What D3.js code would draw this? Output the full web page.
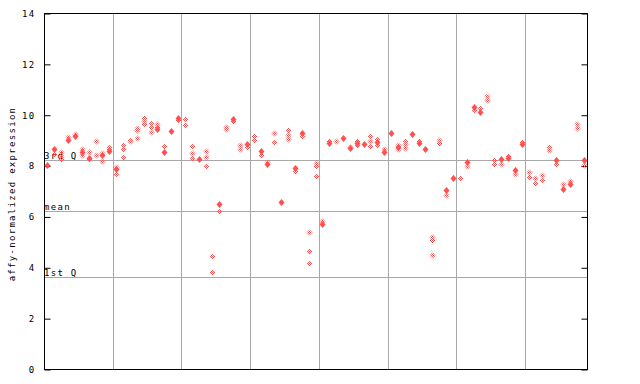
<!DOCTYPE html>
<html><head><meta charset="utf-8">
<script src="https://cdn.jsdelivr.net/npm/d3@7/dist/d3.min.js"></script>
<style>body{margin:0;background:#fff}svg{display:block}</style>
</head><body>
<script>
const yTicks = [0, 2, 4, 6, 8, 10, 12, 14];
const sampleCount = 79;
const groupBreaks = [10, 20, 30, 40, 50, 60, 70];
const refLines = [["3rd Q", 8.22], ["mean", 6.22], ["1st Q", 3.62]];
const yLabel = "affy-normalized expression";
// [sample index, value]
const filledPoints = [
 [0,8.01],[1,8.66],[3,8.99],[4,9.17],[5,8.53],[6,8.31],[8,8.41],[9,8.56],[10,7.86],
 [16,9.45],[17,8.52],[18,9.37],[19,9.89],[22,8.24],[25,6.47],[27,9.84],[29,8.83],
 [31,8.56],[32,8.06],[34,6.55],[36,7.90],[37,9.29],[40,5.71],[41,8.88],[43,9.07],
 [44,8.69],[45,8.87],[46,8.83],[48,8.93],[49,8.52],[50,9.30],[51,8.72],[53,9.23],
 [54,8.89],[55,8.66],[58,7.02],[59,7.52],[61,8.16],[62,10.29],[63,10.09],[66,8.27],
 [67,8.28],[68,7.84],[69,8.86],[74,8.20],[75,7.09],[76,7.26],[78,8.23]
];
const hollowPoints = [
 [1,8.47],[2,8.52],[2,8.38],[2,8.27],[3,9.12],[4,9.26],[5,8.65],[5,8.43],[6,8.52],[6,8.25],
 [7,8.97],[7,8.42],[8,8.49],[8,8.18],[9,8.74],[9,8.65],[10,7.95],[10,7.68],
 [11,8.80],[11,8.66],[11,8.34],[12,9.02],[12,8.95],[13,9.47],[13,9.39],[13,9.08],
 [14,9.87],[14,9.75],[14,9.64],[15,9.68],[15,9.53],[15,9.33],[16,9.62],[16,9.53],
 [17,8.78],[19,9.79],[20,9.84],[20,9.60],[21,8.78],[21,8.49],[21,8.30],
 [23,8.56],[23,8.34],[23,7.99],[24,4.44],[24,3.81],[25,6.21],[26,9.53],[26,9.43],
 [27,9.75],[28,8.82],[28,8.66],[29,8.73],[30,9.17],[30,9.02],[31,8.43],[32,8.15],
 [33,9.28],[33,8.93],[35,9.38],[35,9.21],[35,9.06],[36,7.78],[37,9.17],
 [38,5.39],[38,4.65],[38,4.17],[39,8.12],[39,8.00],[39,7.60],[40,5.82],[41,8.98],
 [42,8.95],[44,8.75],[45,8.98],[45,8.79],[47,9.15],[47,8.98],[47,8.78],[48,9.04],[48,8.81],
 [49,8.65],[51,8.80],[51,8.65],[52,8.98],[52,8.85],[52,8.71],[54,8.95],
 [56,5.20],[56,5.08],[56,4.49],[57,9.02],[57,8.89],[58,6.84],[60,7.51],[61,8.00],
 [62,10.20],[63,10.26],[64,10.72],[64,10.56],[65,8.23],[65,8.07],[66,8.07],[67,8.38],
 [68,7.68],[69,8.93],[70,7.73],[70,7.57],[71,7.51],[71,7.31],[72,7.64],[72,7.44],
 [73,8.75],[73,8.60],[74,8.07],[75,7.27],[76,7.40],[77,9.63],[77,9.48],[78,8.03]
];

const W = 640, H = 384;
const L = 44, R = 587, T = 13, B = 369;
const red = "#ff4f4f", grid = "#a8a8a8";
const font = "'DejaVu Sans Mono', monospace";

const svg = d3.select("body").append("svg").attr("width", W).attr("height", H);
const defs = svg.append("defs");
const pat = defs.append("pattern").attr("id", "chk").attr("patternUnits", "userSpaceOnUse")
  .attr("width", 2).attr("height", 2);
pat.append("rect").attr("x", 0).attr("y", 0).attr("width", 1).attr("height", 1).attr("fill", red);
pat.append("rect").attr("x", 1).attr("y", 1).attr("width", 1).attr("height", 1).attr("fill", red);

const x = d3.scaleLinear().domain([0, sampleCount]).range([L, R]);
const y = d3.scaleLinear().domain([0, 14]).range([B, T]);
const cx = i => x(i + 0.5);
const px = v => Math.round(v) + 0.5;

// vertical group lines
svg.append("g").selectAll("line").data(groupBreaks).join("line")
  .attr("x1", d => px(x(d))).attr("x2", d => px(x(d)))
  .attr("y1", T).attr("y2", B).attr("stroke", grid).attr("stroke-width", 1);

// horizontal reference lines
svg.append("g").selectAll("line").data(refLines).join("line")
  .attr("x1", L).attr("x2", R)
  .attr("y1", d => px(y(d[1]))).attr("y2", d => px(y(d[1])))
  .attr("stroke", grid).attr("stroke-width", 1);

svg.append("g").selectAll("text").data(refLines).join("text")
  .attr("x", L).attr("y", d => Math.round(y(d[1])) - 1)
  .attr("font-family", font).attr("font-size", 9).attr("letter-spacing", 1.3)
  .attr("fill", "#000").text(d => d[0]);

// axes
const axL = d3.axisLeft(y).tickValues(yTicks).tickSize(-6).tickPadding(9).tickFormat(d3.format("d"));
const gL = svg.append("g").attr("transform", `translate(${L + 0.5},0.5)`).call(axL);
gL.select(".domain").remove();
gL.selectAll("text").attr("font-family", font).attr("font-size", 9).attr("letter-spacing", 1.3).attr("fill", "#000");
gL.selectAll("line").attr("stroke", "#000");

const axR = d3.axisRight(y).tickValues(yTicks).tickSize(-6).tickFormat("");
const gR = svg.append("g").attr("transform", `translate(${R + 0.5},0.5)`).call(axR);
gR.select(".domain").remove();
gR.selectAll("line").attr("stroke", "#000");

svg.append("rect").attr("x", L + 0.5).attr("y", T + 0.5).attr("width", R - L).attr("height", B - T)
  .attr("fill", "none").attr("stroke", "#000").attr("stroke-width", 1);

// y label
svg.append("text").attr("transform", `translate(15,${194}) rotate(-90)`)
  .attr("text-anchor", "middle").attr("font-family", font).attr("font-size", 9)
  .attr("letter-spacing", 1.3).attr("fill", "#000").text(yLabel);

// points
const hollowDiamond = (X, Y) => `M${X},${Y - 3}L${X + 3},${Y}L${X},${Y + 3}L${X - 3},${Y}Z`;
const filledDiamond = (X, Y) => `M${X},${Y - 3.6}L${X + 3},${Y}L${X},${Y + 3.6}L${X - 3},${Y}Z`;

svg.append("g").selectAll("path").data(hollowPoints).join("path")
  .attr("d", d => hollowDiamond(Math.round(cx(d[0])) + 0.5, Math.round(y(d[1])) + 0.5))
  .attr("fill", "url(#chk)").attr("stroke", "none");

svg.append("g").selectAll("path").data(filledPoints).join("path")
  .attr("d", d => filledDiamond(Math.round(cx(d[0])) + 0.5, Math.round(y(d[1])) + 0.5))
  .attr("fill", red).attr("stroke", "none");
</script>
</body></html>
